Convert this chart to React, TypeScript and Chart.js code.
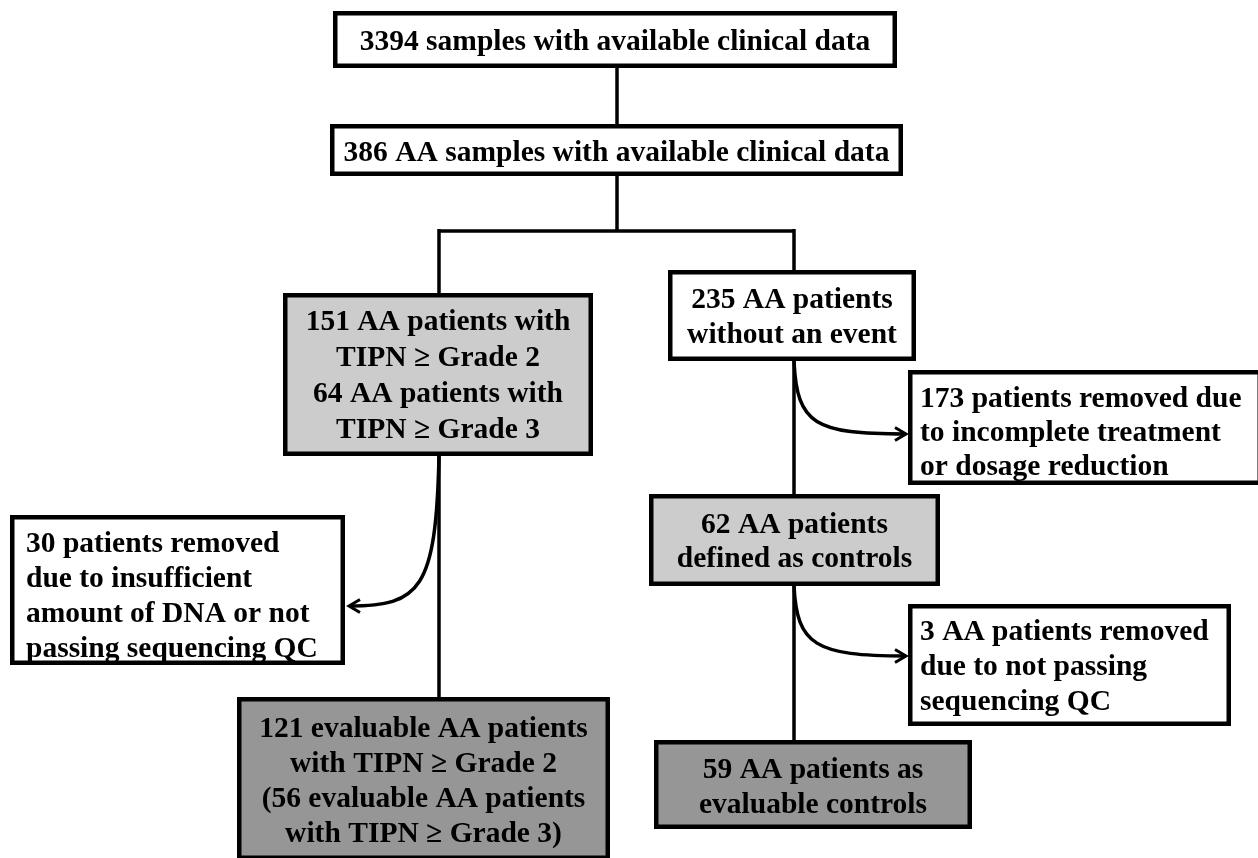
import React, { useEffect, useRef } from "react";
import { Chart, registerables } from "chart.js";

Chart.register(...registerables);

// ---- content ----
const boxLabels: string[][] = [
  ["3394 samples with available clinical data"],
  ["386 AA samples with available clinical data"],
  ["151 AA patients with", "TIPN ≥ Grade 2", "64 AA patients with", "TIPN ≥ Grade 3"],
  ["235 AA patients", "without an event"],
  ["173 patients removed due", "to incomplete treatment", "or dosage reduction"],
  ["30 patients removed", "due to insufficient", "amount of DNA or not", "passing sequencing QC"],
  ["62 AA patients", "defined as controls"],
  ["3 AA patients removed", "due to not passing", "sequencing QC"],
  ["121 evaluable AA patients", "with TIPN ≥ Grade 2", "(56 evaluable AA patients", "with TIPN ≥ Grade 3)"],
  ["59 AA patients as", "evaluable controls"],
];
const boxKind = ["pool", "pool", "cases", "pool", "removed", "removed", "controls", "removed", "final", "final"];

// ---- layout (in the chart's 0..1258 x 0..858 coordinate space) ----
const boxLeft = [333, 330, 283, 668, 908, 10, 649, 908, 237, 654];
const boxTop = [11, 124, 293, 270, 370, 515, 494, 604, 697, 740];
const boxRight = [897, 903, 593, 916, 1262, 345, 940, 1231, 610, 972];
const boxBottom = [68, 176, 456, 361, 485, 665, 586, 726, 860, 829];
const textAlign = ["center", "center", "center", "center", "left", "left", "center", "left", "center", "center"];
const textLeft = [0, 0, 0, 0, 920, 26, 0, 920, 0, 0];
const firstBaseline = [50, 161, 330, 308, 407, 552, 533, 640, 737, 778];
const lineStep = [35, 35, 36, 35, 34, 35, 34, 35, 35, 35];

const connectorPaths: number[][][] = [
  [[617, 68], [617, 124]],
  [[617, 176], [617, 231]],
  [[439, 231], [794, 231]],
  [[439, 229], [439, 293]],
  [[794, 229], [794, 270]],
  [[794, 361], [794, 494]],
  [[439, 456], [439, 697]],
  [[794, 586], [794, 740]],
];

const removalCurves: number[][][] = [
  [[439, 456], [436, 590], [420, 606], [349, 606]],
  [[794, 361], [797, 425], [815, 434], [906, 434]],
  [[794, 586], [797, 645], [815, 656], [906, 656]],
];

const kindFill: Record<string, string> = {
  pool: "#ffffff",
  removed: "#ffffff",
  cases: "#cccccc",
  controls: "#cccccc",
  final: "#969696",
};

const FONT = 'bold 29.5px "Liberation Serif", "Times New Roman", serif';

const flowPlugin = {
  id: "flowPlugin",
  beforeDatasetsDraw(chart: any) {
    const { ctx, scales } = chart;
    const X = (v: number) => scales.x.getPixelForValue(v);
    const Y = (v: number) => scales.y.getPixelForValue(v);
    ctx.save();
    ctx.strokeStyle = "#000";
    ctx.lineCap = "butt";
    for (const c of removalCurves) {
      const [p0, p1, p2, p3] = c;
      ctx.lineWidth = 3.5;
      ctx.beginPath();
      ctx.moveTo(X(p0[0]), Y(p0[1]));
      ctx.bezierCurveTo(X(p1[0]), Y(p1[1]), X(p2[0]), Y(p2[1]), X(p3[0]), Y(p3[1]));
      ctx.stroke();
      // arrow head
      const dx = X(p3[0]) - X(p2[0]);
      const dy = Y(p3[1]) - Y(p2[1]);
      const len = Math.hypot(dx, dy) || 1;
      const ux = dx / len, uy = dy / len;
      const tx = X(p3[0]), ty = Y(p3[1]);
      const back = 11, half = 6.5;
      ctx.beginPath();
      ctx.moveTo(tx - ux * back - uy * half, ty - uy * back + ux * half);
      ctx.lineTo(tx, ty);
      ctx.lineTo(tx - ux * back + uy * half, ty - uy * back - ux * half);
      ctx.lineJoin = "miter";
      ctx.lineWidth = 3;
      ctx.stroke();
    }
    ctx.restore();
  },
  afterDatasetsDraw(chart: any) {
    const { ctx, scales } = chart;
    const X = (v: number) => scales.x.getPixelForValue(v);
    const Y = (v: number) => scales.y.getPixelForValue(v);
    ctx.save();
    const bw = 4.5;
    for (let i = 0; i < boxLabels.length; i++) {
      const l = X(boxLeft[i]), r = X(boxRight[i]);
      const t = Y(boxTop[i]), b = Y(boxBottom[i]);
      ctx.fillStyle = kindFill[boxKind[i]];
      ctx.fillRect(l, t, r - l, b - t);
      ctx.strokeStyle = "#000";
      ctx.lineWidth = bw;
      ctx.lineJoin = "miter";
      ctx.strokeRect(l + bw / 2, t + bw / 2, r - l - bw, b - t - bw);
      ctx.fillStyle = "#000";
      ctx.font = FONT;
      ctx.textBaseline = "alphabetic";
      const align = textAlign[i];
      ctx.textAlign = align === "left" ? "left" : "center";
      const tx = align === "left" ? X(textLeft[i]) : (l + r) / 2;
      boxLabels[i].forEach((line, k) => {
        ctx.fillText(line, tx, Y(firstBaseline[i] + k * lineStep[i]));
      });
    }
    ctx.restore();
  },
};

export default function App() {
  const ref = useRef<HTMLCanvasElement | null>(null);
  useEffect(() => {
    if (!ref.current) return;
    const chart = new Chart(ref.current, {
      type: "scatter",
      data: {
        datasets: connectorPaths.map((p, i) => ({
          label: "connector " + i,
          data: p.map(([x, y]) => ({ x, y })),
          showLine: true,
          borderColor: "#000",
          backgroundColor: "#000",
          borderWidth: 3.5,
          pointRadius: 0,
          pointHoverRadius: 0,
          tension: 0,
        })),
      },
      options: {
        responsive: false,
        animation: false,
        devicePixelRatio: 1,
        events: [],
        layout: { padding: 0 },
        scales: {
          x: { type: "linear", min: 0, max: 1258, display: false },
          y: { type: "linear", min: 0, max: 858, reverse: true, display: false },
        },
        plugins: {
          legend: { display: false },
          tooltip: { enabled: false },
          title: { display: false },
        },
      },
      plugins: [flowPlugin],
    });
    return () => chart.destroy();
  }, []);
  return (
    <div style={{ position: "fixed", left: 0, top: 0, width: 1258, height: 858, background: "#fff" }}>
      <canvas ref={ref} width={1258} height={858} style={{ display: "block" }} />
    </div>
  );
}
